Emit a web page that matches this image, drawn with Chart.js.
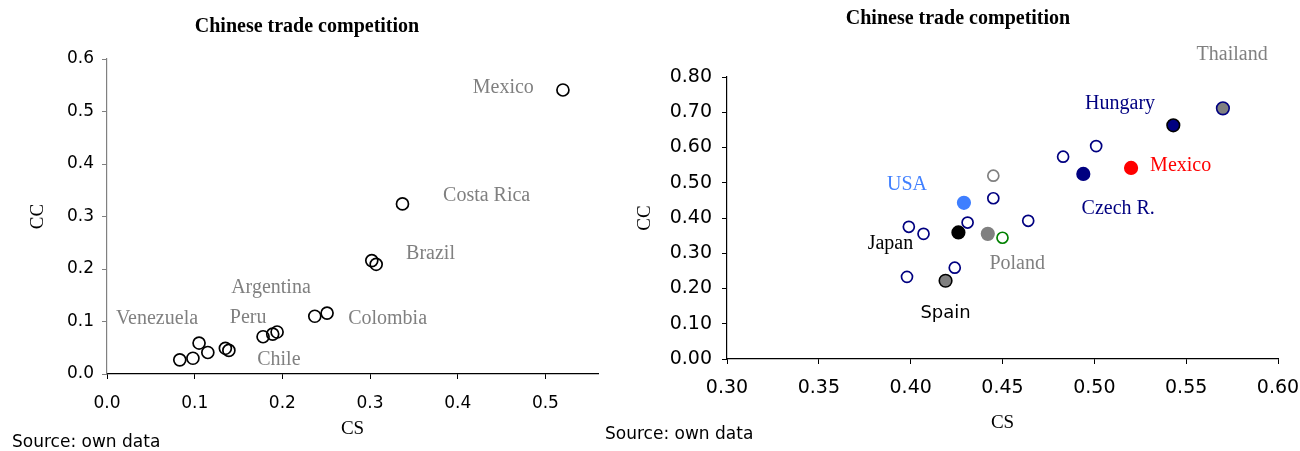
<!DOCTYPE html>
<html>
<head>
<meta charset="utf-8">
<script src="https://cdn.jsdelivr.net/npm/chart.js@4.4.1/dist/chart.umd.min.js"></script>
<style>
  html, body { margin: 0; padding: 0; background: #fff; }
  #wrap { position: relative; width: 1300px; height: 451px; overflow: hidden; }
  #leftBox { position: absolute; left: 0; top: 0; width: 600px; height: 451px; }
  #rightBox { position: absolute; left: 600px; top: 0; width: 700px; height: 451px; }
</style>
</head>
<body>
<div id="wrap">
  <div id="leftBox"><canvas id="leftChart" width="600" height="451"></canvas></div>
  <div id="rightBox"><canvas id="rightChart" width="700" height="451"></canvas></div>
</div>
<script>
// ---- data: left panel (Latin America) ----
const latamCS = [0.520, 0.337, 0.302, 0.307, 0.237, 0.251, 0.178, 0.189, 0.194, 0.135, 0.139, 0.105, 0.115, 0.083, 0.098];
const latamCC = [0.541, 0.324, 0.216, 0.209, 0.110, 0.116, 0.071, 0.076, 0.080, 0.049, 0.045, 0.059, 0.041, 0.027, 0.030];
const latamNames = ['Mexico', 'Costa Rica', 'Brazil', 'Argentina', 'Peru', 'Venezuela', 'Colombia', 'Chile'];
const latamNameCS = [0.452, 0.433, 0.369, 0.187, 0.161, 0.057, 0.320, 0.196];
const latamNameCC = [0.545, 0.340, 0.230, 0.164, 0.108, 0.105, 0.105, 0.027];

// ---- data: right panel ----
const otherCS = [0.501, 0.483, 0.445, 0.464, 0.431, 0.399, 0.407, 0.424, 0.398];
const otherCC = [0.604, 0.574, 0.456, 0.392, 0.387, 0.375, 0.355, 0.259, 0.233];
const greyOpenCS = [0.445];
const greyOpenCC = [0.520];
const greenOpenCS = [0.450];
const greenOpenCC = [0.344];
const countries = ['Thailand', 'Hungary', 'Czech R.', 'Mexico', 'USA', 'Japan', 'Poland', 'Spain'];
const countryCS = [0.570, 0.543, 0.494, 0.520, 0.429, 0.426, 0.442, 0.419];
const countryCC = [0.711, 0.663, 0.525, 0.542, 0.443, 0.359, 0.355, 0.222];
const countryNameCS = [0.575, 0.514, 0.513, 0.547, 0.398, 0.389, 0.458, 0.419];
const countryNameCC = [0.863, 0.724, 0.426, 0.548, 0.493, 0.327, 0.269, 0.130];

const leftXTicks = [0, 0.1, 0.2, 0.3, 0.4, 0.5];

const SERIF = '"Liberation Serif", "Times New Roman", serif';
const SANS = '"DejaVu Sans", Verdana, sans-serif';

const countryStyle = {
  'Thailand': { fill: '#808080', edge: '#000080', text: '#808080', font: '20px ' + SERIF },
  'Hungary':  { fill: '#000080', edge: '#000000', text: '#000080', font: '20px ' + SERIF },
  'Czech R.': { fill: '#000080', edge: '#000080', text: '#000080', font: '20px ' + SERIF },
  'Mexico':   { fill: '#ff0000', edge: '#ff0000', text: '#ff0000', font: '20px ' + SERIF },
  'USA':      { fill: '#3f7fff', edge: '#3f7fff', text: '#3f7fff', font: '20px ' + SERIF },
  'Japan':    { fill: '#000000', edge: '#000000', text: '#000000', font: '20px ' + SERIF },
  'Poland':   { fill: '#808080', edge: '#808080', text: '#808080', font: '20px ' + SERIF },
  'Spain':    { fill: '#808080', edge: '#000000', text: '#000000', font: '18px ' + SANS }
};

function pts(xs, ys) { return xs.map((x, i) => ({ x: x, y: ys[i] })); }

// keep the x axis from reserving extra room for its end labels
function fitX(h) {
  return s => { s.height = h; s.paddingLeft = 0; s.paddingRight = 0; };
}

// labels, titles and source note
const textPlugin = {
  id: 'texts',
  afterDatasetsDraw(chart, args, opts) {
    const ctx = chart.ctx;
    const xs = chart.scales.x, ys = chart.scales.y;
    ctx.save();
    ctx.textAlign = 'center';
    ctx.textBaseline = 'middle';
    opts.notes.forEach(n => {
      ctx.font = n.font;
      ctx.fillStyle = n.color;
      ctx.fillText(n.text, xs.getPixelForValue(n.cs), ys.getPixelForValue(n.cc));
    });
    ctx.fillStyle = '#000';
    ctx.font = 'bold 20px ' + SERIF;
    ctx.fillText('Chinese trade competition', opts.titleX, opts.titleY);
    ctx.textAlign = 'left';
    ctx.font = '17px ' + SANS;
    ctx.fillText('Source: own data', opts.sourceX, opts.sourceY);
    ctx.restore();
  }
};

// Left chart
const leftChart = new Chart(document.getElementById('leftChart').getContext('2d'), {
  type: 'scatter',
  data: {
    datasets: [{
      data: pts(latamCS, latamCC),
      pointRadius: 6,
      pointBorderWidth: 1.7,
      pointBorderColor: '#000',
      pointBackgroundColor: 'rgba(255,255,255,0)'
    }]
  },
  options: {
    responsive: false,
    animation: false,
    layout: { autoPadding: false, padding: { left: 0, top: 59, right: 2, bottom: 0 } },
    plugins: {
      legend: { display: false },
      tooltip: { enabled: false },
      texts: {
        notes: latamNames.map((t, i) => ({ text: t, cs: latamNameCS[i], cc: latamNameCC[i], color: '#808080', font: '20px ' + SERIF })),
        titleX: 307, titleY: 27,
        sourceX: 12, sourceY: 443
      }
    },
    scales: {
      x: {
        type: 'linear', min: 0, max: 0.56,
        afterFit: fitX(77),
        afterBuildTicks: s => { s.ticks = leftXTicks.map(v => ({ value: v })); },
        ticks: { font: { family: SANS, size: 17 }, color: '#000', padding: 14, callback: v => v.toFixed(1) },
        grid: { drawOnChartArea: false, drawTicks: true, tickLength: 5, color: '#000' },
        border: { color: '#000', width: 1.2 },
        title: { display: true, text: 'CS', font: { family: SERIF, size: 19 }, color: '#000', padding: { top: 0, bottom: 11 } }
      },
      y: {
        type: 'linear', min: 0, max: 0.6,
        afterFit: s => { s.width = 107; },
        ticks: { stepSize: 0.1, font: { family: SANS, size: 17 }, color: '#000', padding: 8, callback: v => v.toFixed(1) },
        grid: { drawOnChartArea: false, drawTicks: true, tickLength: 5, color: '#808080' },
        border: { color: '#808080', width: 1.2 },
        title: { display: true, text: 'CC', font: { family: SERIF, size: 19 }, color: '#000', padding: { top: 27, bottom: 0 } }
      }
    }
  },
  plugins: [textPlugin]
});

// Right chart
const countrySets = countries.map((c, i) => ({
  data: [{ x: countryCS[i], y: countryCC[i] }],
  pointRadius: 6.3,
  pointBorderWidth: 1.6,
  pointBorderColor: countryStyle[c].edge,
  pointBackgroundColor: countryStyle[c].fill
}));

const rightChart = new Chart(document.getElementById('rightChart').getContext('2d'), {
  type: 'scatter',
  data: {
    datasets: [{
      data: pts(otherCS, otherCC),
      pointRadius: 5.5,
      pointBorderWidth: 1.7,
      pointBorderColor: '#000080',
      pointBackgroundColor: '#fff'
    }, {
      data: pts(greyOpenCS, greyOpenCC),
      pointRadius: 5.5,
      pointBorderWidth: 1.7,
      pointBorderColor: '#808080',
      pointBackgroundColor: '#fff'
    }, {
      data: pts(greenOpenCS, greenOpenCC),
      pointRadius: 5.5,
      pointBorderWidth: 1.7,
      pointBorderColor: '#008000',
      pointBackgroundColor: '#fff'
    }].concat(countrySets)
  },
  options: {
    responsive: false,
    animation: false,
    layout: { autoPadding: false, padding: { left: 0, top: 77, right: 22, bottom: 0 } },
    plugins: {
      legend: { display: false },
      tooltip: { enabled: false },
      texts: {
        notes: countries.map((t, i) => ({ text: t, cs: countryNameCS[i], cc: countryNameCC[i], color: countryStyle[t].text, font: countryStyle[t].font })),
        titleX: 358, titleY: 19,
        sourceX: 5, sourceY: 435
      }
    },
    scales: {
      x: {
        type: 'linear', min: 0.3, max: 0.6,
        afterFit: fitX(92),
        ticks: { stepSize: 0.05, font: { family: SANS, size: 19 }, color: '#000', padding: 13, callback: v => v.toFixed(2) },
        grid: { drawOnChartArea: false, drawTicks: true, tickLength: 5, color: '#000' },
        border: { color: '#000', width: 1.2 },
        title: { display: true, text: 'CS', font: { family: SERIF, size: 19 }, color: '#000', padding: { top: 0, bottom: 17 } }
      },
      y: {
        type: 'linear', min: 0, max: 0.8,
        afterFit: s => { s.width = 127; },
        ticks: { stepSize: 0.1, font: { family: SANS, size: 19 }, color: '#000', padding: 10, callback: v => v.toFixed(2) },
        grid: { drawOnChartArea: false, drawTicks: true, tickLength: 5, color: '#000' },
        border: { color: '#000', width: 1.2 },
        title: { display: true, text: 'CC', font: { family: SERIF, size: 19 }, color: '#000', padding: { top: 34, bottom: 0 } }
      }
    }
  },
  plugins: [textPlugin]
});
</script>
</body>
</html>
